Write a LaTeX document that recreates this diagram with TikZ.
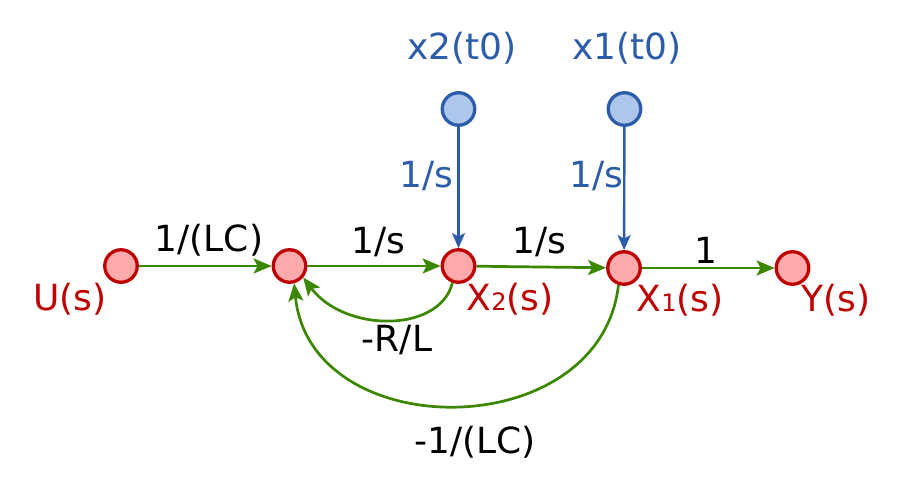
\documentclass[tikz,border=0pt]{standalone}
\usepackage{fontspec}
\setmainfont{DejaVu Sans}
\usetikzlibrary{arrows.meta}
\definecolor{nodered}{RGB}{190,0,0}
\definecolor{nodefill}{RGB}{255,170,170}
\definecolor{bluestroke}{RGB}{44,92,170}
\definecolor{bluefill}{RGB}{175,198,235}
\definecolor{edgegreen}{RGB}{60,135,0}
\tikzset{
  sig/.style={circle, draw=nodered, fill=nodefill, line width=3.3pt, minimum size=32.5pt, inner sep=0pt},
  init/.style={circle, draw=bluestroke, fill=bluefill, line width=3.3pt, minimum size=32.5pt, inner sep=0pt},
  lbl/.style={anchor=base, inner sep=0pt, font=\fontsize{36}{40}\selectfont},
  redlbl/.style={lbl, text=nodered},
  bluelbl/.style={lbl, text=bluestroke},
  gedge/.style={draw=edgegreen, line width=2.7pt, -{Stealth[length=18pt,width=15pt,inset=4pt]}},
  bedge/.style={draw=bluestroke, line width=2.4pt, -{Stealth[length=15pt,width=13pt,inset=3.5pt]}}
}
\newcommand{\smallsub}[1]{{\fontsize{24}{26}\selectfont #1}}
\begin{document}
\begin{tikzpicture}[x=1pt,y=-1pt]
\fill[white] (0,0) rectangle (900,500);
\useasboundingbox (0,0) rectangle (900,500);

% signal nodes
\node[sig] (u) at (121,266) {};
\node[sig] (n) at (289.5,266) {};
\node[sig] (x2) at (458.5,266) {};
\node[sig] (x1) at (624,268) {};
\node[sig] (y) at (792.5,268) {};
% initial condition nodes
\node[init] (i2) at (458.5,109) {};
\node[init] (i1) at (624.5,109) {};

% node labels
\node[redlbl] (lu) at (70,310) {U(s)};
\node[redlbl] (lx2) at (510,310) {X\smallsub{2}(s)};
\node[redlbl] (lx1) at (680,311) {X\smallsub{1}(s)};
\node[redlbl] (ly) at (836,311) {Y(s)};
\node[bluelbl] (li2) at (462,60) {x2(t0)};
\node[bluelbl] (li1) at (627,60) {x1(t0)};

% forward edges
\draw[gedge] (u) -- (n);
\draw[gedge] (n) -- (x2);
\draw[gedge] (x2) -- (x1);
\draw[gedge] (x1) -- (y);
% feedback edges
\draw[gedge] (x2.-110) .. controls (440,333) and (345,333) .. (n.-40);
\draw[gedge] (x1.-108) .. controls (600,446) and (310,446) .. (n.-75);
% initial condition edges
\draw[bedge] (i2) -- (x2);
\draw[bedge] (i1) -- (x1);

% edge labels
\node[lbl] (e1) at (209,251) {1/(LC)};
\node[lbl] (e2) at (378,253) {1/s};
\node[lbl] (e3) at (539,253) {1/s};
\node[lbl] (e4) at (706,263) {1};
\node[lbl] (e5) at (397,351) {-R/L};
\node[lbl] (e6) at (475,453) {-1/(LC)};
\node[bluelbl] (e7) at (426,188) {1/s};
\node[bluelbl] (e8) at (596,188) {1/s};
\end{tikzpicture}
\end{document}
